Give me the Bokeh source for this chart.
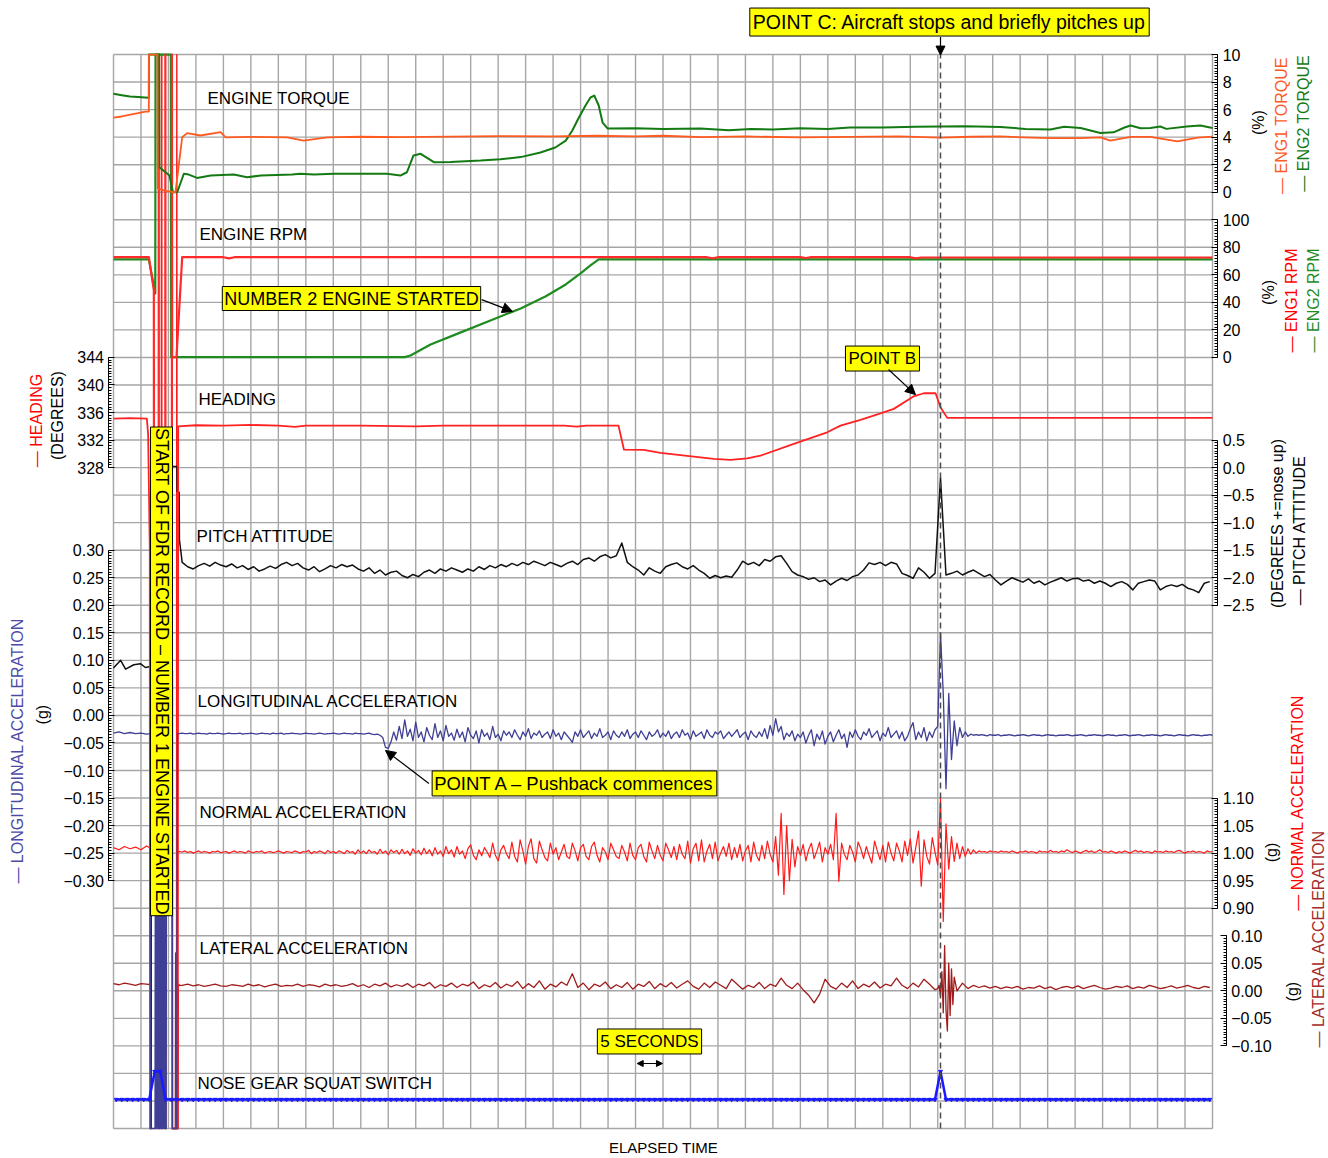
import numpy as np
from bokeh.plotting import figure
from bokeh.models import (Range1d, LinearAxis, FixedTicker, Label, Arrow,
                          NormalHead, CustomJSTickFormatter)
from bokeh.embed import file_html
from bokeh.resources import INLINE

# ---------------- data (elapsed time in seconds) ----------------
ENG1_TQ_T = [0, 1.5, 3.1, 4.5, 5.8, 6.43, 6.45, 8.0, 8.05, 9.5, 10.9, 11.28, 12.5, 13.4, 15.8,
             19.5, 20.4, 25.0, 31.6, 34.6, 38.9, 45.0, 52.0, 61.3, 70.0, 80.0, 88.0, 95.0, 100.0,
             107.0, 115.0, 125.0, 134.0, 143.0, 150.5, 156.0, 161.4, 167.0, 170.5, 176.0, 179.6,
             181.4, 185.1, 188.7, 193.6, 197.3, 200.0]
ENG1_TQ = [5.42, 5.50, 5.64, 5.75, 5.86, 5.86, 10.0, 10.0, 0.27, 0.10, 0.0, 0.0, 3.99, 4.29, 4.12,
           4.36, 3.99, 4.02, 3.99, 3.75, 3.99, 4.03, 4.0, 4.04, 4.08, 4.05, 4.10, 4.05, 4.10,
           4.0, 4.05, 3.98, 4.02, 4.05, 3.97, 4.03, 4.05, 3.96, 3.93, 3.93, 3.99,
           3.75, 4.02, 4.02, 3.70, 3.96, 4.04]

ENG2_TQ_T = [0, 1.5, 3.0, 4.5, 6.3, 6.43, 6.45, 8.3, 8.35, 10.2, 10.8, 11.6, 12.8, 13.7, 15.2,
             17.7, 21.9, 24.3, 26.8, 32.5, 34.0, 36.5, 40.1, 49.8, 52.2, 53.4, 54.6, 55.9, 58.3,
             61.3, 66.8, 70.4, 74.1, 77.7, 80.4, 82.3, 83.5, 84.6, 85.9, 86.8, 87.5, 88.3, 89.0,
             89.9, 95, 100, 106.8, 112, 116, 120, 125, 130, 134, 140, 146, 150.5, 155, 161.4, 166,
             170.5, 173, 176, 179.6, 182, 184, 185.1, 186.9, 188.7, 190.5, 191.6, 195.3, 197.8, 200]
ENG2_TQ = [7.15, 7.05, 6.95, 6.92, 6.86, 6.86, 10.0, 10.0, 1.82, 1.21, 0.0, 0.0, 1.34, 1.28, 1.04,
           1.21, 1.28, 1.09, 1.21, 1.28, 1.34, 1.28, 1.34, 1.34, 1.21, 1.45, 2.67, 2.79, 2.18,
           2.20, 2.30, 2.40, 2.55, 2.88, 3.25, 3.75, 4.48, 5.35, 6.30, 6.88, 7.02, 6.30, 5.06,
           4.63, 4.65, 4.60, 4.63, 4.50, 4.60, 4.55, 4.65, 4.60, 4.70, 4.70, 4.75, 4.77, 4.80, 4.73, 4.60,
           4.55, 4.75, 4.66, 4.30, 4.35, 4.70, 4.84, 4.65, 4.66, 4.77, 4.60, 4.77, 4.84, 4.67]

ENG1_RPM_T = [0, 6.43, 7.34, 7.38, 8.22, 8.24, 8.26, 8.28, 9.42, 9.44, 9.46, 9.48, 10.62, 10.64,
              10.68, 11.46, 12.5, 20, 21, 22, 60, 108, 109, 110, 125, 126, 127, 145, 146, 147, 200]
ENG1_RPM = [72.8, 72.8, 48.7, -227, -227, 220, -560, -227, -227, 220, -560, -227, -227, 220,
            0.2, 0.2, 72.8, 72.8, 71.9, 72.8, 72.8, 72.8, 72.0, 72.8, 72.8, 72.2, 72.8, 72.8,
            72.0, 72.6, 72.6]

ENG2_RPM_T = [0, 6.43, 7.6, 7.65, 10.45, 10.5, 53.0, 54.05, 57.7, 63.2, 68.6, 74.1, 78.6, 82.3,
              85.0, 86.8, 88.3, 200]
ENG2_RPM = [71.2, 71.2, 46.5, 220, 220, 0.2, 0.2, 1.45, 9.4, 18.2, 26.9, 35.6, 44.3, 53.0,
            61.0, 66.8, 71.2, 71.2]

HEADING_T = [0, 3, 6.07, 6.3, 6.6, 6.65, 6.7, 8.74, 8.76, 8.78, 8.8, 10.7, 10.72, 11.7, 11.77,
             15, 20, 25, 30, 33, 35, 45, 55, 60, 70, 82, 84.3, 86, 91.9, 92.9, 96.5, 99.54,
             105.6, 109.24, 112.28, 115.32, 117.74, 123.8, 129.88, 132.3, 135.94, 139.58, 142.0,
             145.64, 147.46, 149.6, 150.5, 151.72, 200]
HEADING = [335.1, 335.2, 335.1, 332.9, 316.5, 232, 298.5, 298.5, 388, 232, 298.5, 298.5, 232,
           232, 334.0, 334.15, 334.1, 334.2, 334.1, 333.9, 334.1, 334.1, 334.0, 334.1, 334.1,
           334.1, 333.96, 334.1, 334.1, 330.6, 330.57, 330.13, 329.6, 329.26, 329.12, 329.35,
           329.74, 331.44, 333.13, 334.1, 334.93, 335.89, 336.53, 338.36, 338.8, 338.8, 336.76,
           335.22, 335.22]

PITCH_HEAD_T = [0, 1.3, 2.2, 3.7, 4.9, 5.8, 6.75, 6.8, 6.85, 10.6, 10.65, 11.55, 11.6, 11.95, 12.0]
PITCH_HEAD = [-3.64, -3.50, -3.66, -3.58, -3.56, -3.63, -3.61, -12.0, -4.2, -4.2, 0.02, 0.02,
              -0.43, -0.45, -1.31]
PITCH_T0, PITCH_DT = 12.5, 1.0
PITCH = [
    -1.72, -1.80, -1.84, -1.78, -1.74, -1.79, -1.72, -1.77, -1.80, -1.75,
    -1.82, -1.78, -1.85, -1.80, -1.88, -1.84, -1.79, -1.83, -1.76, -1.72,
    -1.78, -1.74, -1.82, -1.86, -1.80, -1.89, -1.84, -1.78, -1.82, -1.76,
    -1.80, -1.77, -1.84, -1.88, -1.82, -1.92, -1.86, -1.95, -1.90, -1.88,
    -1.96, -2.00, -1.94, -1.98, -1.90, -1.86, -1.92, -1.84, -1.88, -1.82,
    -1.86, -1.90, -1.84, -1.88, -1.80, -1.85, -1.78, -1.82, -1.76, -1.80,
    -1.74, -1.78, -1.72, -1.76, -1.70, -1.74, -1.78, -1.72, -1.76, -1.80,
    -1.74, -1.70, -1.76, -1.67, -1.64, -1.70, -1.62, -1.58, -1.64, -1.60,
    -1.37, -1.72, -1.80, -1.86, -1.95, -1.82, -1.88, -1.92, -1.80, -1.76,
    -1.73, -1.80, -1.84, -1.78, -1.86, -1.92, -2.01, -1.96, -2.00, -1.97,
    -1.99, -1.86, -1.70, -1.76, -1.72, -1.78, -1.67, -1.70, -1.62, -1.60,
    -1.74, -1.89, -1.95, -1.98, -2.03, -2.00, -2.07, -2.04, -2.13, -2.06,
    -2.01, -2.05, -1.98, -1.95, -1.86, -1.73, -1.76, -1.72, -1.78, -1.72,
    -1.75, -1.92, -1.96, -2.01, -1.82, -1.90, -2.01, -1.92, -0.19, -1.95,
    -1.92, -1.88, -1.95, -1.90, -1.86, -1.92, -1.98, -1.94, -2.04, -2.13,
    -2.06, -2.00, -2.04, -2.08, -2.02, -2.10, -2.06, -2.13, -2.08, -2.04,
    -2.00, -2.06, -2.02, -2.01, -2.06, -2.04, -2.10, -2.06, -2.10, -2.16,
    -2.10, -2.07, -2.12, -2.22, -2.10, -2.07, -2.04, -2.06, -2.22, -2.16,
    -2.13, -2.16, -2.12, -2.19, -2.22, -2.27, -2.10, -2.07]

LONG_HEAD_T = [0, 1, 2, 3, 4, 5, 6, 6.7, 6.75, 7.55, 7.6, 7.7, 7.8, 7.9, 8.0, 8.1, 8.2, 8.3,
               8.4, 8.5, 8.6, 8.7, 8.8, 8.9, 9.0, 9.1, 9.2, 9.3, 9.4, 9.5, 9.6, 9.65, 10.7, 10.72,
               11.5, 11.55, 11.65, 12.0]
LONG_HEAD = [-0.032, -0.030, -0.033, -0.031, -0.033, -0.032, -0.034, -0.033, -0.75, -0.75,
             -0.30, -0.75, -0.32, -0.75, -0.30, -0.75, -0.34, -0.75, -0.30, -0.75, -0.31, -0.75,
             -0.30, -0.75, -0.33, -0.75, -0.30, -0.75, -0.32, -0.75, -0.75, 0.081, 0.081, -0.75,
             -0.75, -0.39, -0.033, -0.033]
LONG_T0, LONG_DT = 12.5, 0.5
LONG = [
    -0.032, -0.033, -0.033, -0.032, -0.034, -0.033, -0.032, -0.033, -0.033, -0.034,
    -0.032, -0.033, -0.033, -0.032, -0.033, -0.034, -0.033, -0.032, -0.033, -0.033,
    -0.033, -0.032, -0.034, -0.033, -0.033, -0.032, -0.033, -0.034, -0.033, -0.032,
    -0.033, -0.033, -0.034, -0.032, -0.033, -0.033, -0.032, -0.034, -0.033, -0.033,
    -0.032, -0.033, -0.033, -0.034, -0.033, -0.032, -0.033, -0.033, -0.034, -0.033,
    -0.032, -0.033, -0.034, -0.033, -0.033, -0.032, -0.033, -0.034, -0.033, -0.032,
    -0.033, -0.033, -0.034, -0.032, -0.033, -0.033, -0.034, -0.033, -0.032, -0.034,
    -0.035, -0.034, -0.036, -0.040, -0.058, -0.060, -0.048, -0.030, -0.045, -0.020,
    -0.042, -0.008, -0.038, -0.025, -0.046, -0.012, -0.040, -0.030, -0.048, -0.022,
    -0.036, -0.044, -0.015, -0.040, -0.028, -0.046, -0.018, -0.038, -0.032, -0.045,
    -0.025, -0.040, -0.030, -0.048, -0.022, -0.036, -0.042, -0.028, -0.050, -0.026,
    -0.038, -0.032, -0.044, -0.020, -0.040, -0.034, -0.046, -0.028, -0.036, -0.030,
    -0.040, -0.026, -0.036, -0.044, -0.030, -0.038, -0.024, -0.042, -0.032, -0.036,
    -0.028, -0.040, -0.034, -0.030, -0.042, -0.026, -0.038, -0.032, -0.044, -0.030,
    -0.036, -0.042, -0.049, -0.030, -0.038, -0.026, -0.040, -0.034, -0.028, -0.042,
    -0.032, -0.038, -0.024, -0.040, -0.036, -0.030, -0.044, -0.028, -0.036, -0.040,
    -0.030, -0.038, -0.026, -0.042, -0.034, -0.030, -0.040, -0.028, -0.036, -0.044,
    -0.030, -0.038, -0.034, -0.026, -0.040, -0.032, -0.038, -0.028, -0.042, -0.034,
    -0.030, -0.040, -0.026, -0.036, -0.032, -0.044, -0.028, -0.038, -0.034, -0.030,
    -0.042, -0.026, -0.036, -0.040, -0.030, -0.034, -0.028, -0.042, -0.036, -0.030,
    -0.038, -0.032, -0.026, -0.040, -0.034, -0.030, -0.044, -0.028, -0.036, -0.040,
    -0.030, -0.038, -0.024, -0.042, -0.018, -0.036, -0.006, -0.030, -0.020, -0.044,
    -0.032, -0.038, -0.028, -0.046, -0.034, -0.040, -0.030, -0.050, -0.036, -0.026,
    -0.055, -0.034, -0.044, -0.028, -0.052, -0.038, -0.030, -0.048, -0.036, -0.026,
    -0.042, -0.034, -0.058, -0.030, -0.040, -0.026, -0.038, -0.044, -0.030, -0.036,
    -0.024, -0.040, -0.034, -0.028, -0.046, -0.032, -0.038, -0.022, -0.040, -0.034,
    -0.028, -0.042, -0.030, -0.046, -0.038, -0.024, -0.013, -0.044, -0.030, -0.040,
    -0.022, -0.046, -0.030, -0.040, -0.026, -0.020, 0.150, 0.040, -0.133, 0.040,
    -0.080, -0.010, -0.055, -0.022, -0.040, -0.030, -0.038, -0.034, -0.036, -0.035,
    -0.036, -0.035, -0.036, -0.037, -0.035, -0.036, -0.036, -0.035, -0.037, -0.036,
    -0.036, -0.035, -0.036, -0.037, -0.036, -0.036, -0.035, -0.036, -0.037, -0.036,
    -0.035, -0.036, -0.036, -0.037, -0.036, -0.035, -0.036, -0.036, -0.037, -0.036,
    -0.036, -0.036, -0.035, -0.036, -0.037, -0.036, -0.036, -0.035, -0.036, -0.037,
    -0.036, -0.036, -0.035, -0.036, -0.036, -0.037, -0.036, -0.035, -0.036, -0.036,
    -0.037, -0.036, -0.036, -0.035, -0.036, -0.037, -0.036, -0.036, -0.035, -0.036,
    -0.037, -0.036, -0.036, -0.035, -0.036, -0.036, -0.037, -0.036, -0.035, -0.036,
    -0.036, -0.037, -0.036, -0.035, -0.036, -0.036, -0.037, -0.036, -0.035, -0.036,
    -0.036, -0.037, -0.036, -0.036, -0.035, -0.036]

NORMAL_HEAD_T = [0, 1, 2, 3, 4, 5, 6, 6.75, 6.8, 6.85, 9.28, 9.3, 9.32, 10.7, 10.72, 11.45,
                 11.5, 11.54, 11.6, 12.0]
NORMAL_HEAD = [1.010, 1.006, 1.012, 1.008, 1.011, 1.006, 1.013, 1.009, 0.50, 1.33, 1.33, 0.50,
               1.33, 1.33, 0.50, 0.50, 2.45, 2.45, 1.002, 1.003]
NORMAL_T0, NORMAL_DT = 12.5, 0.5
NORMAL = [
    1.002, 1.004, 1.001, 1.003, 1.000, 1.002, 1.004, 1.001, 1.003, 1.002,
    1.000, 1.003, 1.002, 1.004, 1.001, 1.002, 1.003, 1.000, 1.002, 1.004,
    1.001, 1.003, 1.002, 1.000, 1.004, 1.002, 1.001, 1.003, 1.002, 1.004,
    1.000, 1.002, 1.003, 1.001, 1.002, 1.004, 1.002, 1.000, 1.003, 1.002,
    1.001, 1.004, 1.002, 1.000, 1.003, 1.002, 1.005, 0.999, 1.003, 1.001,
    1.004, 1.002, 0.999, 1.005, 1.001, 1.003, 1.000, 1.004, 1.002, 0.999,
    1.005, 1.001, 1.003, 0.998, 1.006, 1.000, 1.004, 0.999, 1.006, 1.001,
    1.003, 0.998, 1.007, 1.000, 1.004, 0.997, 1.006, 1.001, 1.005, 0.998,
    1.007, 0.999, 1.004, 0.996, 1.008, 1.000, 1.005, 0.997, 1.009, 0.999,
    1.006, 0.995, 1.010, 0.998, 1.004, 0.994, 1.012, 0.999, 1.006, 0.993,
    1.012, 0.998, 1.004, 0.990, 1.008, 1.015, 0.996, 0.988, 1.006, 0.995,
    1.010, 1.002, 0.992, 1.018, 0.996, 0.986, 1.006, 1.014, 0.999, 0.990,
    1.020, 0.994, 0.984, 1.024, 1.004, 0.980, 1.012, 1.026, 0.990, 0.982,
    1.022, 1.006, 0.992, 0.986, 1.018, 0.998, 1.010, 0.988, 1.002, 1.016,
    0.994, 0.990, 1.018, 1.004, 0.986, 1.010, 1.016, 0.994, 0.988, 1.012,
    1.020, 0.996, 0.984, 1.010, 1.002, 0.988, 1.018, 1.006, 0.994, 0.990,
    1.014, 1.002, 0.986, 1.018, 0.996, 0.988, 1.010, 1.016, 0.994, 0.984,
    1.020, 1.004, 0.990, 1.014, 0.996, 0.986, 1.018, 1.006, 0.992, 1.012,
    0.988, 1.016, 0.998, 0.990, 1.022, 0.982, 1.008, 1.018, 0.986, 1.024,
    0.984, 1.004, 1.016, 0.990, 1.020, 0.986, 1.000, 1.012, 0.994, 1.018,
    0.988, 1.010, 0.992, 1.016, 0.986, 1.004, 1.014, 0.984, 1.020, 0.996,
    0.986, 1.014, 0.990, 1.022, 0.998, 0.984, 1.030, 0.960, 1.072, 0.925,
    1.050, 0.950, 1.025, 0.975, 1.012, 0.996, 1.016, 0.986, 1.006, 1.018,
    0.990, 1.004, 1.020, 0.984, 1.010, 0.998, 1.016, 0.988, 1.072, 0.949,
    1.018, 0.998, 0.988, 1.014, 1.002, 0.984, 1.020, 1.008, 0.990, 1.012,
    0.996, 0.982, 1.022, 1.004, 0.988, 1.014, 0.984, 1.020, 1.000, 0.986,
    1.018, 1.004, 0.984, 1.022, 0.996, 1.026, 0.982, 1.010, 1.040, 0.940,
    1.024, 0.994, 0.980, 1.028, 1.002, 0.978, 1.100, 0.876, 1.053, 0.971,
    1.030, 0.985, 1.018, 0.990, 1.012, 0.994, 1.008, 0.998, 1.006, 1.000,
    1.004, 1.002, 1.003, 1.001, 1.004, 1.002, 1.003, 1.001, 1.004, 1.002,
    1.003, 1.001, 1.004, 1.002, 1.000, 1.003, 1.002, 1.004, 1.001, 1.003,
    1.002, 1.000, 1.004, 1.002, 1.003, 1.001, 1.005, 1.002, 1.003, 1.001,
    1.004, 1.002, 1.006, 1.003, 1.001, 1.004, 1.002, 1.000, 1.003, 1.005,
    1.002, 1.004, 1.001, 1.003, 1.006, 1.002, 1.003, 1.001, 1.004, 1.002,
    1.000, 1.003, 1.001, 1.004, 1.002, 1.000, 1.003, 1.005, 1.002, 1.004,
    1.001, 1.003, 1.002, 1.000, 1.004, 1.002, 1.003, 1.001, 1.004, 1.002,
    1.003, 1.001, 1.004, 1.005, 1.002, 1.000, 1.003, 1.002, 1.004, 1.001,
    1.003, 1.002, 1.000, 1.004, 1.002, 1.003]

LAT_HEAD_T = [0, 1, 2, 3, 4, 5, 6, 6.8, 6.85, 6.9, 10.7, 10.72, 11.25, 11.3, 11.5, 11.55, 11.75,
              11.8, 12.0]
LAT_HEAD = [0.013, 0.011, 0.014, 0.012, 0.010, 0.013, 0.012, 0.011, -0.25, 0.581, 0.581, -0.25,
            -0.25, 0.069, 0.069, -0.25, -0.25, 0.012, 0.010]
LAT_A_T0, LAT_A_DT = 12.5, 1.0
LAT_A = [
    0.010, 0.012, 0.009, 0.011, 0.008, 0.010, 0.012, 0.009, 0.008, 0.011,
    0.010, 0.008, 0.012, 0.009, 0.011, 0.007, 0.010, 0.012, 0.008, 0.010,
    0.009, 0.012, 0.008, 0.011, 0.010, 0.007, 0.012, 0.009, 0.011, 0.008,
    0.010, 0.013, 0.008, 0.011, 0.006, 0.012, 0.009, 0.014, 0.007, 0.011,
    0.008, 0.013, 0.006, 0.012, 0.009, 0.015, 0.005, 0.011, 0.008, 0.014,
    0.006, 0.012, 0.009, 0.016, 0.004, 0.011, 0.007, 0.015, 0.005, 0.012,
    0.008, 0.017, 0.004, 0.013, 0.006, 0.018, 0.003, 0.012, 0.007, 0.016,
    0.010, 0.031, 0.006, 0.014, 0.002, 0.012, 0.008, 0.016, 0.004, 0.011,
    0.006, 0.015, 0.003, 0.012, 0.008, 0.017, 0.004, 0.013, 0.007, 0.015,
    0.005, 0.012, 0.018, 0.008, 0.003, 0.014, 0.006, 0.016, 0.010, 0.004,
    0.021, 0.012, 0.003, 0.010, 0.006, 0.015, 0.004, 0.012, 0.008, 0.023,
    0.010, 0.004, 0.014, 0.002, -0.008, -0.022, -0.006, 0.021, 0.008, 0.003,
    0.014, 0.006, 0.018, 0.004, 0.012, 0.007, 0.016, 0.005, 0.012, 0.009,
    0.023, 0.010, 0.004, 0.014, 0.007, 0.021, 0.012, 0.002]
LAT_BURST_T0, LAT_BURST_DT = 150.0, 0.25
LAT_BURST = [0.004, 0.010, -0.010, 0.035, -0.040, 0.082, -0.035, -0.073, 0.050, -0.045, 0.040,
             -0.025, 0.025]
LAT_B_T0, LAT_B_DT = 153.5, 1.0
LAT_B = [
    0.000, 0.014, 0.004, 0.010, 0.006, 0.009, 0.005, 0.008, 0.004, 0.007,
    0.005, 0.008, 0.003, 0.006, 0.005, 0.009, 0.004, 0.007, 0.002, 0.006,
    0.008, 0.005, 0.009, 0.004, 0.007, 0.010, 0.006, 0.003, 0.005, 0.008,
    0.006, 0.009, 0.004, 0.007, 0.005, 0.010, 0.007, 0.004, 0.006, 0.009,
    0.005, 0.007, 0.010, 0.006, 0.004, 0.008, 0.006]

SQUAT_T0, SQUAT_DT = 0.5, 1.0
SQUAT = [
    0, 0, 0, 0, 0, 0, 0, 1, 1, 0, 0, 0, 0, 0, 0, 0, 0, 0, 0, 0,
    0, 0, 0, 0, 0, 0, 0, 0, 0, 0, 0, 0, 0, 0, 0, 0, 0, 0, 0, 0,
    0, 0, 0, 0, 0, 0, 0, 0, 0, 0, 0, 0, 0, 0, 0, 0, 0, 0, 0, 0,
    0, 0, 0, 0, 0, 0, 0, 0, 0, 0, 0, 0, 0, 0, 0, 0, 0, 0, 0, 0,
    0, 0, 0, 0, 0, 0, 0, 0, 0, 0, 0, 0, 0, 0, 0, 0, 0, 0, 0, 0,
    0, 0, 0, 0, 0, 0, 0, 0, 0, 0, 0, 0, 0, 0, 0, 0, 0, 0, 0, 0,
    0, 0, 0, 0, 0, 0, 0, 0, 0, 0, 0, 0, 0, 0, 0, 0, 0, 0, 0, 0,
    0, 0, 0, 0, 0, 0, 0, 0, 0, 0, 1, 0, 0, 0, 0, 0, 0, 0, 0, 0,
    0, 0, 0, 0, 0, 0, 0, 0, 0, 0, 0, 0, 0, 0, 0, 0, 0, 0, 0, 0,
    0, 0, 0, 0, 0, 0, 0, 0, 0, 0, 0, 0, 0, 0, 0, 0, 0, 0, 0, 0]

POINT_C_T = 150.5

# tick values
TQ_TICKS = [0, 2, 4, 6, 8, 10]
RPM_TICKS = [0, 20, 40, 60, 80, 100]
HDG_TICKS = [328, 332, 336, 340, 344]
PITCH_TICKS = [0.5, 0.0, -0.5, -1.0, -1.5, -2.0, -2.5]
LONG_TICKS = [0.30, 0.25, 0.20, 0.15, 0.10, 0.05, 0.00, -0.05, -0.10, -0.15, -0.20, -0.25, -0.30]
NORM_TICKS = [0.90, 0.95, 1.00, 1.05, 1.10]
LAT_TICKS = [-0.10, -0.05, 0.00, 0.05, 0.10]

# ---------------- layout ----------------
FONT = "Liberation Sans"
W, H = 1326, 1156
X0, X1 = -20.564, 220.746      # elapsed-time range over the whole canvas
U0, U1 = -1.017, 40.962        # grid-row units over the whole canvas
BANDS = {                      # grid row of reference value, reference value, value per row
    "torque": (34.0, 0.0, 2.0),
    "rpm": (28.0, 0.0, 20.0),
    "heading": (24.0, 328.0, 4.0),
    "pitch": (19.0, -2.5, 0.5),
    "long": (9.0, -0.30, 0.05),
    "normal": (8.0, 0.90, 0.05),
    "lateral": (3.0, -0.10, 0.05),
    "squat": (1.053, 0.0, 0.983),
}

C_TQ1, C_TQ2 = "#ff5a1f", "#137a13"
C_RPM1, C_RPM2 = "#ff2a2a", "#1f8c1f"
C_HDG, C_PITCH, C_LONG = "#ff2222", "#111111", "#3f3f95"
C_NORM, C_LAT, C_SQUAT = "#ff1a1a", "#a01c1c", "#1a1aff"
GRID = "#a6a6a6"

p = figure(width=W, height=H, x_range=Range1d(X0, X1), y_range=Range1d(U0, U1),
           output_backend="svg", toolbar_location=None, x_axis_location=None,
           y_axis_location=None, min_border=0, outline_line_color=None, title=None,
           background_fill_color="white", border_fill_color="white")
p.grid.visible = False
p.extra_y_ranges = {n: Range1d(v0 + (U0 - u0) * k, v0 + (U1 - u0) * k)
                    for n, (u0, v0, k) in BANDS.items()}

# grid: 40 columns of 5 s, 39 rows
gx = np.arange(0, 201, 5.0)
gy = np.arange(0, 40, 1.0)
p.segment(x0=gx, y0=0, x1=gx, y1=39, line_color=GRID, line_width=1.4)
p.segment(x0=0, y0=gy, x1=200, y1=gy, line_color=GRID, line_width=1.4)


def build(*pieces):
    ts, vs = [], []
    for piece in pieces:
        if len(piece) == 2:
            ts += list(piece[0])
            vs += list(piece[1])
        else:
            t0, dt, vals = piece
            ts += [t0 + dt * i for i in range(len(vals))]
            vs += list(vals)
    return ts, vs


def trace(t, v, rng, color, width):
    p.line(t, v, y_range_name=rng, line_color=color, line_width=width, line_join="round")


t, v = build((LAT_HEAD_T, LAT_HEAD), (LAT_A_T0, LAT_A_DT, LAT_A),
             (LAT_BURST_T0, LAT_BURST_DT, LAT_BURST), (LAT_B_T0, LAT_B_DT, LAT_B))
trace(t, v, "lateral", C_LAT, 1.3)
t, v = build((NORMAL_HEAD_T, NORMAL_HEAD), (NORMAL_T0, NORMAL_DT, NORMAL))
trace(t, v, "normal", C_NORM, 1.2)
t, v = build((PITCH_HEAD_T, PITCH_HEAD), (PITCH_T0, PITCH_DT, PITCH))
trace(t, v, "pitch", C_PITCH, 1.5)
trace(HEADING_T, HEADING, "heading", C_HDG, 1.8)
trace(ENG2_RPM_T, ENG2_RPM, "rpm", C_RPM2, 2.2)
trace(ENG1_RPM_T, ENG1_RPM, "rpm", C_RPM1, 2.2)
t, v = build((LONG_HEAD_T, LONG_HEAD), (LONG_T0, LONG_DT, LONG))
trace(t, v, "long", C_LONG, 1.3)
trace(ENG2_TQ_T, ENG2_TQ, "torque", C_TQ2, 2.0)
trace(ENG1_TQ_T, ENG1_TQ, "torque", C_TQ1, 1.8)
t, v = build((SQUAT_T0, SQUAT_DT, SQUAT))
trace(t, v, "squat", C_SQUAT, 2.5)
p.scatter(t, v, y_range_name="squat", marker="inverted_triangle", size=4,
          fill_color=C_SQUAT, line_color=C_SQUAT)

# Point C marker line
p.line([POINT_C_T, POINT_C_T], [0, 39], line_color="#4a4a4a", line_width=1.5, line_dash="6 4")


# ---------------- axes ----------------
def axis(name, side, loc, ticks, lo, hi, step, dec):
    n = int(round((hi - lo) / step))
    minor = [lo + i * step for i in range(n + 1)]
    fmt = CustomJSTickFormatter(
        code="return (tick < -1e-9 ? '\u2212' : '') + Math.abs(tick).toFixed(%d);" % dec)
    ax = LinearAxis(y_range_name=name, fixed_location=loc, bounds=(lo, hi),
                    ticker=FixedTicker(ticks=ticks, minor_ticks=minor), formatter=fmt,
                    axis_line_color="black", axis_line_width=1,
                    major_tick_in=6, major_tick_out=0, minor_tick_in=3, minor_tick_out=0,
                    major_tick_line_color="black", minor_tick_line_color="black",
                    major_label_text_font=FONT, major_label_text_font_size="16px",
                    major_label_text_color="black", major_label_standoff=5)
    p.add_layout(ax, side)


RIGHT_X, LAT_X, LEFT_X = 200.95, 202.5, -0.82
axis("torque", "right", RIGHT_X, TQ_TICKS, 0, 10, 0.2, 0)
axis("rpm", "right", RIGHT_X, RPM_TICKS, 0, 100, 2, 0)
axis("pitch", "right", RIGHT_X, PITCH_TICKS, -2.5, 0.5, 0.05, 1)
axis("normal", "right", RIGHT_X, NORM_TICKS, 0.90, 1.10, 0.005, 2)
axis("lateral", "right", LAT_X, LAT_TICKS, -0.10, 0.10, 0.005, 2)
axis("heading", "left", LEFT_X, HDG_TICKS, 328, 344, 0.4, 0)
axis("long", "left", LEFT_X, LONG_TICKS, -0.30, 0.30, 0.005, 2)


# ---------------- texts ----------------
def label(x, y, text, size="17px", color="black", angle=0.0, align="left", box=False, pad=3):
    kw = dict(x=x, y=y, text=text, text_font=FONT, text_font_size=size, text_color=color,
              angle=angle, text_align=align, text_baseline="middle")
    if box:
        kw.update(background_fill_color="#ffff00", border_line_color="black",
                  border_line_width=1, padding=pad)
    p.add_layout(Label(**kw))


def arrow(xs, ys, xe, ye, both=False, size=10):
    head = lambda: NormalHead(size=size, fill_color="black", line_color="black", line_width=1)
    p.add_layout(Arrow(end=head(), start=head() if both else None, x_start=xs, y_start=ys,
                       x_end=xe, y_end=ye, line_color="black", line_width=1.2))


label(17.11, 37.42, "ENGINE TORQUE")
label(15.65, 32.48, "ENGINE RPM")
label(15.47, 26.49, "HEADING")
label(15.10, 21.48, "PITCH ATTITUDE")
label(15.29, 15.52, "LONGITUDINAL ACCELERATION")
label(15.65, 11.49, "NORMAL ACCELERATION")
label(15.65, 6.52, "LATERAL ACCELERATION")
label(15.29, 1.62, "NOSE GEAR SQUAT SWITCH")
label(100.09, -0.69, "ELAPSED TIME", size="15px", align="center")

UP = np.pi / 2
label(208.37, 36.53, "(%)", size="16px", angle=UP, align="center")
label(212.56, 36.42, "\u2014 ENG1 TORQUE", size="16px", color=C_TQ1, angle=UP, align="center")
label(216.56, 36.50, "\u2014 ENG2 TORQUE", size="16px", color=C_TQ2, angle=UP, align="center")
label(210.19, 30.36, "(%)", size="16px", angle=UP, align="center")
label(214.38, 30.07, "\u2014 ENG1 RPM", size="16px", color="#ff0000", angle=UP, align="center")
label(218.38, 30.07, "\u2014 ENG2 RPM", size="16px", color=C_RPM2, angle=UP, align="center")
label(211.83, 21.97, "(DEGREES +=nose up)", size="16px", angle=UP, align="center")
label(215.83, 21.72, "\u2014 PITCH ATTITUDE", size="16px", angle=UP, align="center")
label(210.74, 10.02, "(g)", size="16px", angle=UP, align="center")
label(215.47, 11.84, "\u2014 NORMAL ACCELERATION", size="16px", color="#ff0000", angle=UP,
      align="center")
label(214.56, 4.97, "(g)", size="16px", angle=UP, align="center")
label(219.38, 6.90, "\u2014 LATERAL ACCELERATION", size="16px", color="#a52a2a", angle=UP,
      align="center")
label(-14.01, 25.71, "\u2014 HEADING", size="16px", color="#ff0000", angle=UP, align="center")
label(-10.19, 25.89, "(DEGREES)", size="16px", angle=UP, align="center")
label(-17.47, 13.73, "\u2014 LONGITUDINAL ACCELERATION", size="16px", color="#4b4ba5",
      angle=UP, align="center")
label(-12.92, 15.03, "(g)", size="16px", angle=UP, align="center")

# callouts
label(152.14, 40.18, "POINT C: Aircraft stops and briefly pitches up", size="19.5px",
      align="center", box=True, pad=3)
arrow(POINT_C_T, 39.64, POINT_C_T, 38.98, size=9)
label(43.31, 30.14, "NUMBER 2 ENGINE STARTED", size="18px", align="center", box=True, pad=2)
arrow(67.0, 30.10, 72.61, 29.67)
label(139.94, 27.96, "POINT B", align="center", box=True)
arrow(141.04, 27.56, 145.95, 26.65)
label(83.89, 12.53, "POINT A \u2013 Pushback commences", size="18.5px", align="center",
      box=True, pad=2)
arrow(57.4, 12.53, 49.50, 13.73)
label(97.54, 3.16, "5 SECONDS", align="center", box=True)
arrow(95.3, 2.36, 99.9, 2.36, both=True, size=6)
label(8.74, 16.60, "START OF FDR RECORD \u2013 NUMBER 1 ENGINE STARTED",
      size="18px", align="center", angle=-UP, box=True, pad=1)

open("out.html", "w").write(file_html(p, INLINE))
